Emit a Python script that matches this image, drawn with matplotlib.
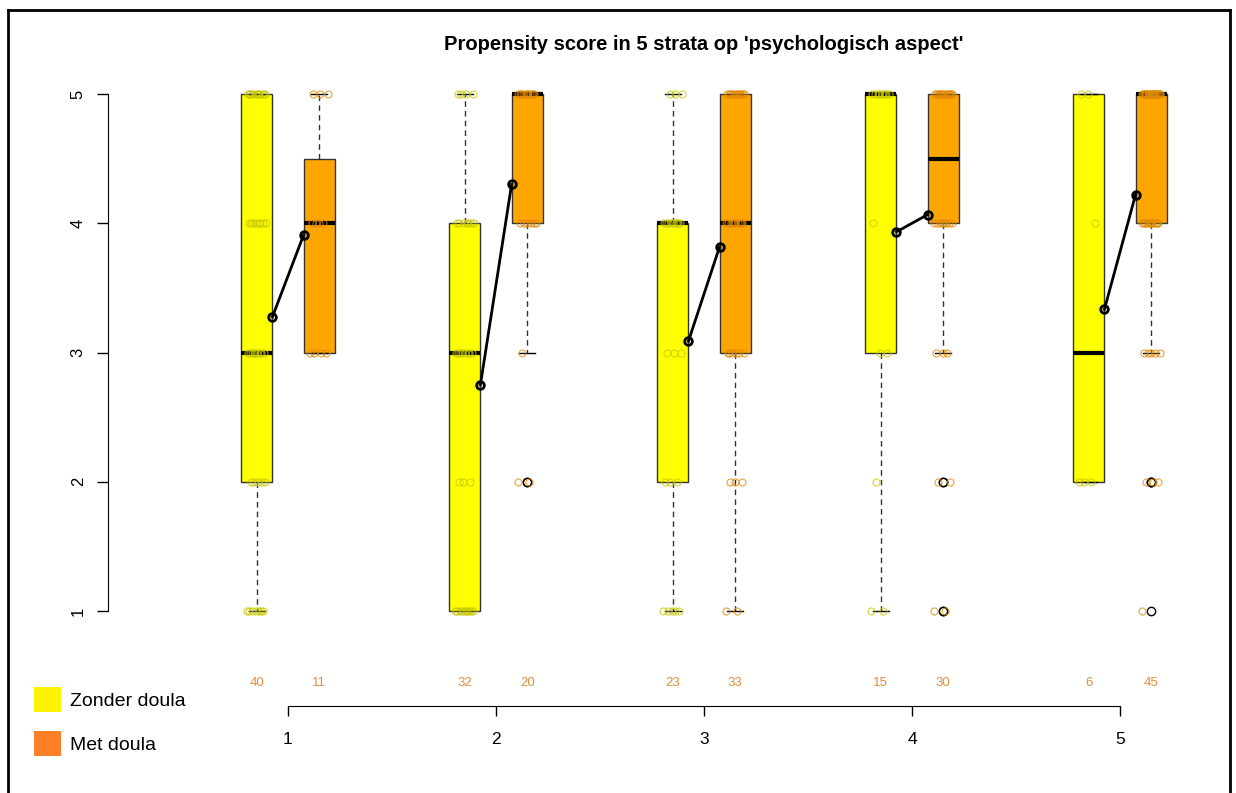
import numpy as np
import matplotlib
matplotlib.use("Agg")
import matplotlib.pyplot as plt
from matplotlib.patches import Rectangle
from matplotlib.lines import Line2D

plt.rcParams['font.family'] = ['Liberation Sans', 'DejaVu Sans']

# Aantal respondenten per score (1..5) per stratum
scores = [1, 2, 3, 4, 5]
strata = [1, 2, 3, 4, 5]
zonder_counts = [[7, 5, 9, 8, 11],
                 [10, 3, 8, 7, 4],
                 [5, 3, 3, 9, 3],
                 [2, 1, 2, 1, 9],
                 [0, 3, 0, 1, 2]]
met_counts = [[0, 0, 4, 4, 3],
              [0, 2, 1, 6, 11],
              [2, 3, 6, 10, 12],
              [2, 2, 3, 8, 15],
              [1, 3, 5, 12, 24]]
labels = ["Zonder doula", "Met doula"]
title = "Propensity score in 5 strata op 'psychologisch aspect'"


def expand(counts):
    return np.repeat(scores, counts).astype(float)


def fivenum_stats(x):
    # Tukey hinges zoals R's boxplot.stats
    x = np.sort(x)
    n = len(x)
    n4 = np.floor((n + 3) / 2) / 2
    d = np.array([1, n4, (n + 1) / 2, n + 1 - n4, n])
    fn = 0.5 * (x[np.floor(d).astype(int) - 1] + x[np.ceil(d).astype(int) - 1])
    iqr = fn[3] - fn[1]
    lo, hi = fn[1] - 1.5 * iqr, fn[3] + 1.5 * iqr
    inside = x[(x >= lo) & (x <= hi)]
    return dict(med=fn[2], q1=fn[1], q3=fn[3],
                whislo=inside.min(), whishi=inside.max(),
                fliers=x[(x < lo) | (x > hi)])


W, H = 1236, 793
fig = plt.figure(figsize=(W / 100, H / 100), dpi=100)

# plotgebied in pixels
left, right, top, bottom = 108, 1236, 60, 706
ax = fig.add_axes([left / W, 1 - bottom / H, (right - left) / W, (bottom - top) / H])

px_per_x = 208.0
px_per_y = 129.25
ax.set_xlim(1 - (288 - left) / px_per_x, 1 + (right - 288) / px_per_x)
ax.set_ylim(1 - (bottom - 611) / px_per_y, 5 + (94 - top) / px_per_y)

box_fill = ["#FFFF00", "#FFA500"]
pt_color = ["#C8C800", "#E08A00"]
offset = [-0.15, 0.15]
bw = 0.15

means = [[], []]
for g, counts in enumerate([zonder_counts, met_counts]):
    stats, pos = [], []
    for k, c in zip(strata, counts):
        data = expand(c)
        stats.append(fivenum_stats(data))
        pos.append(k + offset[g])
        means[g].append(data.mean())

        # gejitterde punten
        jit = ((np.arange(len(data)) * 0.618) % 1 - 0.5) * 0.09
        ax.plot(k + offset[g] + jit, data, 'o', ms=5, mfc='none',
                mec=pt_color[g], mew=0.9, alpha=0.7, zorder=4)

    ax.bxp(stats, positions=pos, widths=bw, patch_artist=True,
           showfliers=True, capwidths=bw / 2,
           boxprops=dict(facecolor=box_fill[g], edgecolor='#333333', lw=1),
           medianprops=dict(color='black', lw=3, solid_capstyle='butt'),
           whiskerprops=dict(color='#333333', lw=1, linestyle=(0, (4, 3))),
           capprops=dict(color='black', lw=1),
           flierprops=dict(marker='o', ms=6, mfc='none', mec='black', mew=1),
           manage_ticks=False, zorder=2)

# gemiddelden verbonden per stratum
for i, k in enumerate(strata):
    ax.plot([k - bw / 2, k + bw / 2], [means[0][i], means[1][i]], '-o',
            color='black', lw=2, ms=5.5, mfc='none', mew=2, zorder=5)

# aantallen onder de boxen
for g, counts in enumerate([zonder_counts, met_counts]):
    for k, c in zip(strata, counts):
        ax.text(k + offset[g], 1 - 72 / px_per_y, str(sum(c)), ha='center',
                va='center', fontsize=9.5, color='#E0903C')

for s in ['top', 'right']:
    ax.spines[s].set_visible(False)
ax.spines['left'].set_bounds(1, 5)
ax.spines['bottom'].set_bounds(1, 5)
ax.set_xticks(strata)
ax.set_yticks(scores)
ax.set_yticklabels([str(s) for s in scores], rotation=90, va='center')
ax.tick_params(axis='y', length=8, width=1, pad=8, labelsize=12)
ax.tick_params(axis='x', length=7, width=1, pad=12, labelsize=12.5)
ax.patch.set_visible(False)

fig.text(704 / W, 1 - 45 / H, title, fontsize=14.5, fontweight='bold',
         ha='center', va='center')

# legenda
leg_colors = ["#FFF200", "#FF7F27"]
leg_y = [687, 731]
for col, y, lab in zip(leg_colors, leg_y, labels):
    fig.patches.append(Rectangle((34 / W, 1 - (y + 25) / H), 27 / W, 25 / H,
                                 transform=fig.transFigure, facecolor=col,
                                 edgecolor='none'))
    fig.text(70 / W, 1 - (y + 14) / H, lab, fontsize=14, va='center', ha='left')

# kader rond de figuur
for xs, ys in [([8, 1230], [10, 10]), ([8, 8], [10, 793]), ([1230, 1230], [10, 793])]:
    fig.add_artist(Line2D([x / W for x in xs], [1 - y / H for y in ys],
                          color='black', lw=2, transform=fig.transFigure))

fig.savefig("out.png", dpi=100)
